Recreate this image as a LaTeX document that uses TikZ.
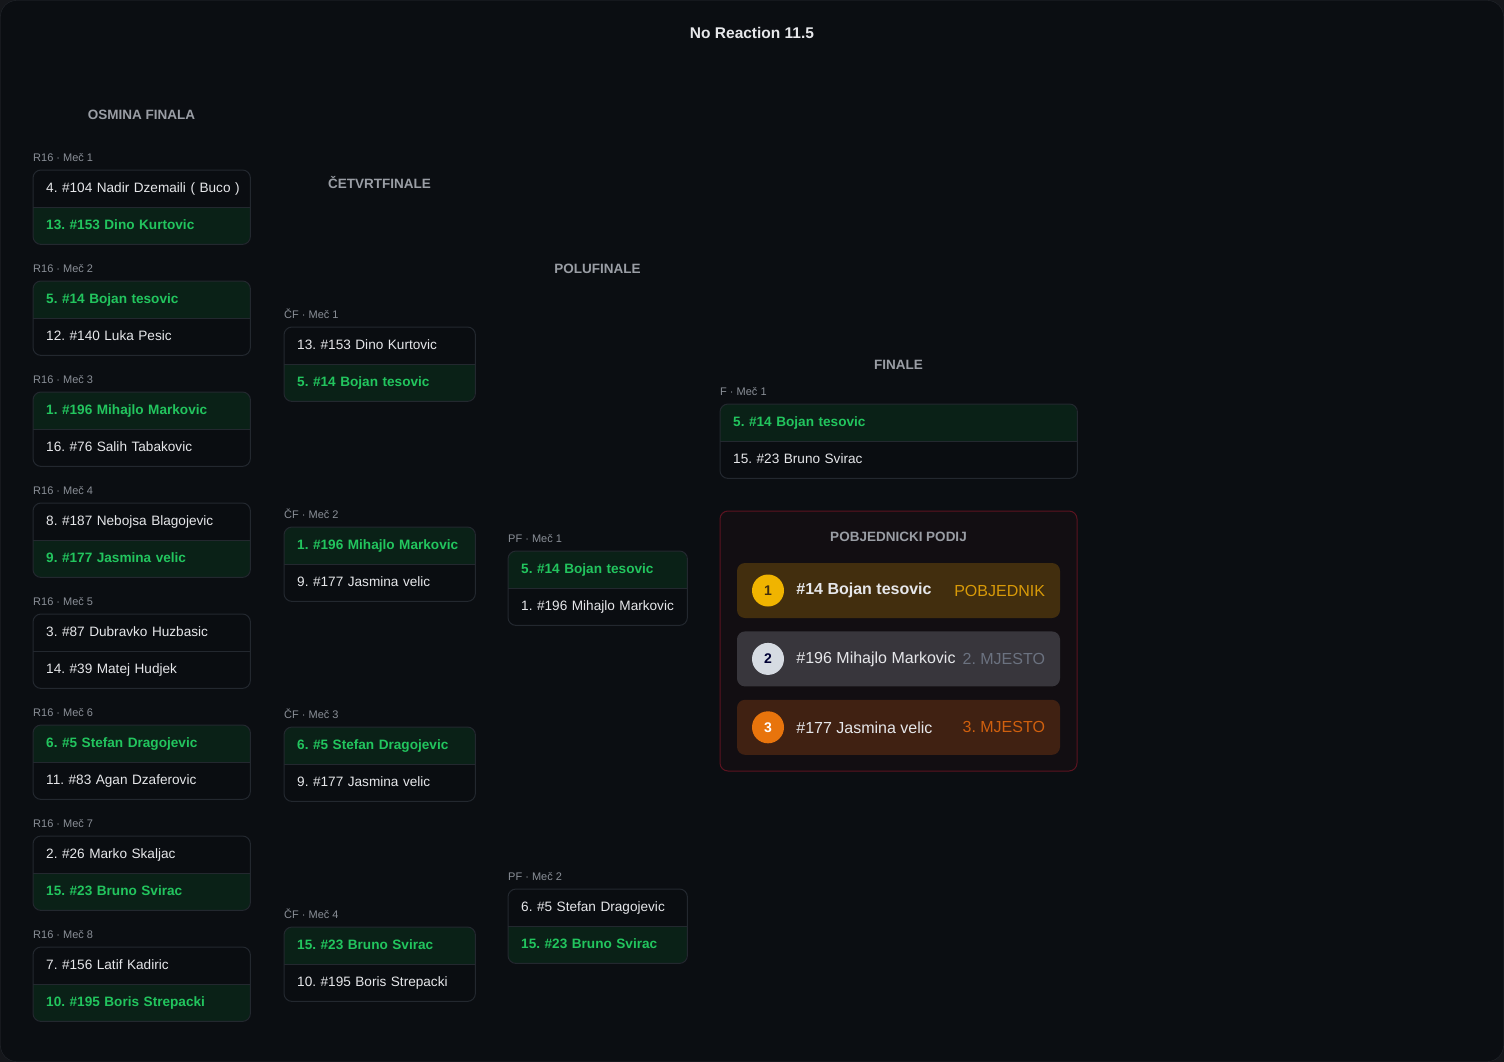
\documentclass[tikz,border=0pt]{standalone}
\usepackage{fontspec}
\setmainfont{Liberation Sans}
\usetikzlibrary{positioning}
\frenchspacing
\definecolor{outerbg}{HTML}{15171B}
\definecolor{pagebg}{HTML}{0B0E12}
\definecolor{pageedge}{HTML}{22262C}
\definecolor{cardbg}{HTML}{0A0D11}
\definecolor{cardedge}{HTML}{23282F}
\definecolor{winbg}{HTML}{0A2117}
\definecolor{wintext}{HTML}{22C55E}
\definecolor{plaintext}{HTML}{E6E7EA}
\definecolor{headtext}{HTML}{9A9EA5}
\definecolor{lbltext}{HTML}{8A8F97}
\definecolor{podbg}{HTML}{120E12}
\definecolor{podedge}{HTML}{5C1320}
\definecolor{goldrow}{HTML}{422E0E}
\definecolor{silverrow}{HTML}{38363C}
\definecolor{bronzerow}{HTML}{402112}
\definecolor{goldmedal}{HTML}{F0B400}
\definecolor{silvermedal}{HTML}{D6DBE2}
\definecolor{bronzemedal}{HTML}{E8740C}
\definecolor{goldtag}{HTML}{D89A08}
\definecolor{silvertag}{HTML}{6B7280}
\definecolor{bronzetag}{HTML}{D0600E}
\tikzset{roundhead/.style={font=\fontsize{13.5}{16}\selectfont\bfseries,text=headtext}}
\tikzset{matchlabel/.style={font=\fontsize{11}{13}\selectfont,text=lbltext,inner sep=0pt,anchor=base west}}
\tikzset{row/.style={rectangle,anchor=north west,inner xsep=13pt,inner ysep=0pt,minimum height=37pt,align=left,text height=10pt,text depth=3pt,font=\fontsize{13.6}{16}\selectfont}}
\tikzset{winrow/.style={row,fill=winbg,text=wintext,font=\fontsize{13.6}{16}\selectfont\bfseries}}
\tikzset{loserow/.style={row,fill=cardbg,text=plaintext}}
\tikzset{cardline/.style={draw=cardedge,line width=1pt}}
\tikzset{podiumbox/.style={rectangle,rounded corners=8pt,draw=podedge,fill=podbg,line width=1pt,minimum width=357pt,minimum height=260pt}}
\tikzset{podiumrow/.style={rectangle,rounded corners=8pt,minimum width=323pt,minimum height=55pt}}
\tikzset{medal/.style={circle,minimum size=32pt,inner sep=0pt,font=\fontsize{14}{16}\selectfont\bfseries}}
\tikzset{podname/.style={inner sep=0pt,text=plaintext,font=\fontsize{16}{19}\selectfont}}
\tikzset{podtag/.style={inner sep=0pt,font=\fontsize{16}{19}\selectfont}}

% name, left x, top y, text width, label, top player, its style, bottom player, its style
\newcommand{\matchcard}[9]{%
  \node[matchlabel] (#1-lbl) at (#2,#3-9) {#5};
  \begin{scope}
    \clip[rounded corners=8pt] (#2,#3) rectangle (#2+#4+26,#3+74);
    \node[#7,text width=#4pt] (#1-a) at (#2,#3) {\mbox{#6}};
    \node[#9,text width=#4pt] (#1-b) at (#2,#3+37) {\mbox{#8}};
  \end{scope}
  \draw[cardline] (#1-a.south west) -- (#1-a.south east);
  \draw[cardline,rounded corners=8pt] (#1-a.north west) rectangle (#1-b.south east);
}

\begin{document}
\begin{tikzpicture}[x=1pt,y=-1pt]
\useasboundingbox (0,0) rectangle (1504,1062);
\fill[outerbg] (0,0) rectangle (1504,1062);
\draw[pageedge,fill=pagebg,rounded corners=16pt] (0.5,0.5) rectangle (1503.5,1061.5);

\node (title) [font=\fontsize{15.5}{18}\selectfont\bfseries,text=plaintext] at (752,33) {No Reaction 11.5};

% round headers
\node (hr16) [roundhead] at (141.5,115) {OSMINA FINALA};
\node (hqf) [roundhead] at (379.5,183) {ČETVRTFINALE};
\node (hsf) [roundhead] at (597.5,269) {POLUFINALE};
\node (hf) [roundhead] at (898.5,365) {FINALE};

% osmina finala
\matchcard{r16m1}{33}{170}{191}{R16 · Meč 1}{4. \#104 Nadir Dzemaili ( Buco )}{loserow}{13. \#153 Dino Kurtovic}{winrow}
\matchcard{r16m2}{33}{281}{191}{R16 · Meč 2}{5. \#14 Bojan tesovic}{winrow}{12. \#140 Luka Pesic}{loserow}
\matchcard{r16m3}{33}{392}{191}{R16 · Meč 3}{1. \#196 Mihajlo Markovic}{winrow}{16. \#76 Salih Tabakovic}{loserow}
\matchcard{r16m4}{33}{503}{191}{R16 · Meč 4}{8. \#187 Nebojsa Blagojevic}{loserow}{9. \#177 Jasmina velic}{winrow}
\matchcard{r16m5}{33}{614}{191}{R16 · Meč 5}{3. \#87 Dubravko Huzbasic}{loserow}{14. \#39 Matej Hudjek}{loserow}
\matchcard{r16m6}{33}{725}{191}{R16 · Meč 6}{6. \#5 Stefan Dragojevic}{winrow}{11. \#83 Agan Dzaferovic}{loserow}
\matchcard{r16m7}{33}{836}{191}{R16 · Meč 7}{2. \#26 Marko Skaljac}{loserow}{15. \#23 Bruno Svirac}{winrow}
\matchcard{r16m8}{33}{947}{191}{R16 · Meč 8}{7. \#156 Latif Kadiric}{loserow}{10. \#195 Boris Strepacki}{winrow}

% cetvrtfinale
\matchcard{qfm1}{284}{327}{165}{ČF · Meč 1}{13. \#153 Dino Kurtovic}{loserow}{5. \#14 Bojan tesovic}{winrow}
\matchcard{qfm2}{284}{527}{165}{ČF · Meč 2}{1. \#196 Mihajlo Markovic}{winrow}{9. \#177 Jasmina velic}{loserow}
\matchcard{qfm3}{284}{727}{165}{ČF · Meč 3}{6. \#5 Stefan Dragojevic}{winrow}{9. \#177 Jasmina velic}{loserow}
\matchcard{qfm4}{284}{927}{165}{ČF · Meč 4}{15. \#23 Bruno Svirac}{winrow}{10. \#195 Boris Strepacki}{loserow}

% polufinale
\matchcard{sfm1}{508}{551}{153}{PF · Meč 1}{5. \#14 Bojan tesovic}{winrow}{1. \#196 Mihajlo Markovic}{loserow}
\matchcard{sfm2}{508}{889}{153}{PF · Meč 2}{6. \#5 Stefan Dragojevic}{loserow}{15. \#23 Bruno Svirac}{winrow}

% finale
\matchcard{fm1}{720}{404}{331}{F · Meč 1}{5. \#14 Bojan tesovic}{winrow}{15. \#23 Bruno Svirac}{loserow}

% pobjednicki podij
\node (podium) [podiumbox] at (898.5,641) {};
\node (podhead) [roundhead] at (898.5,537) {POBJEDNICKI PODIJ};
\node (place1) [podiumrow,fill=goldrow] at (898.5,590.5) {};
\node (place2) [podiumrow,fill=silverrow,below=13pt of place1] {};
\node (place3) [podiumrow,fill=bronzerow,below=13pt of place2] {};
\node (medal1) [medal,fill=goldmedal,text=goldrow,right=15pt of place1.west] {1};
\node (medal2) [medal,fill=silvermedal,text=black!80!blue,right=15pt of place2.west] {2};
\node (medal3) [medal,fill=bronzemedal,text=white,right=15pt of place3.west] {3};
\node (name1) [podname,font=\fontsize{16}{19}\selectfont\bfseries,right=12pt of medal1] {\#14 Bojan tesovic};
\node (name2) [podname,right=12pt of medal2] {\#196 Mihajlo Markovic};
\node (name3) [podname,right=12pt of medal3] {\#177 Jasmina velic};
\node (tag1) [podtag,text=goldtag,left=15pt of place1.east] {POBJEDNIK};
\node (tag2) [podtag,text=silvertag,left=15pt of place2.east] {2. MJESTO};
\node (tag3) [podtag,text=bronzetag,left=15pt of place3.east] {3. MJESTO};
\end{tikzpicture}
\end{document}
